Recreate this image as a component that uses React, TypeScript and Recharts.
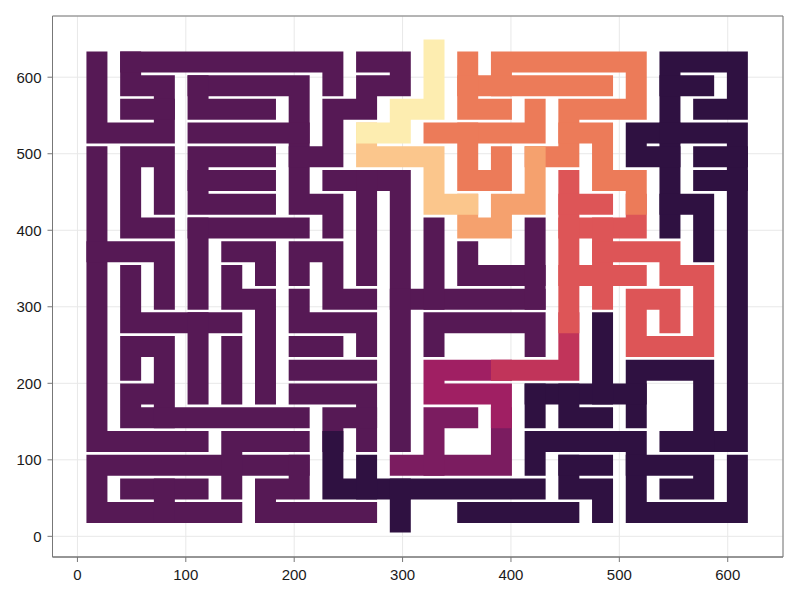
import React from 'react';
import { LineChart, Line, XAxis, YAxis, CartesianGrid, ReferenceArea } from 'recharts';

// maze cell size in data units, and the data position of cell (0, 0)
const CELL_X = 31.1;
const CELL_Y = 31;
const X0 = 18;
const Y0 = 31;

const TICKS = [0, 100, 200, 300, 400, 500, 600];

type Cell = [number, number];

// corridors as [column, row] cells, grouped by colour
const yellowPaths: Cell[][] = [
  [[10, 19.5], [10, 17], [9, 17], [9, 16], [8, 16]],
];
const peachPaths: Cell[][] = [
  [[8, 16], [8, 15], [10, 15], [10, 13], [11, 13]],
];
const salmonPaths: Cell[][] = [
  [[11, 13], [11, 12], [12, 12], [12, 13], [13, 13], [13, 15]],
];
const coralPaths: Cell[][] = [
  [[13, 15], [14, 15], [14, 17], [16, 17], [16, 19], [12, 19], [12, 18], [11, 18], [11, 19]],
  [[12, 18], [15, 18]],
  [[11, 18], [11, 17], [12, 17]],
  [[10, 16], [13, 16], [13, 17]],
  [[11, 16], [11, 14], [12, 14], [12, 15]],
  [[14, 16], [15, 16], [15, 14], [16, 14], [16, 13]],
];
const redPaths: Cell[][] = [
  [[16, 13], [16, 12], [14, 12]],
  [[14, 14], [14, 8]],
  [[14, 13], [15, 13]],
  [[15, 12], [15, 9]],
  [[14, 10], [16, 10]],
  [[15, 11], [17, 11], [17, 10], [18, 10], [18, 7], [16, 7], [16, 9], [17, 9], [17, 8]],
];
const crimsonPaths: Cell[][] = [
  [[14, 8], [14, 6], [12, 6]],
];
const magentaPaths: Cell[][] = [
  [[12, 6], [10, 6], [10, 5], [12, 5], [12, 4]],
];
const plumPaths: Cell[][] = [
  [[12, 4], [12, 2], [9, 2]],
  [[10, 2], [10, 4], [11, 4]],
];
const purplePaths: Cell[][] = [
  [[1, 19], [1, 18], [2, 18], [2, 16], [0, 16], [0, 19]],
  [[1, 17], [2, 17]],
  [[1, 19], [7, 19], [7, 18]],
  [[3, 18], [6, 18], [6, 13], [7, 13], [7, 12]],
  [[5, 17], [3, 17], [3, 18]],
  [[3, 16], [6, 16]],
  [[8, 19], [9, 19], [9, 18], [8, 18], [8, 17], [7, 17], [7, 15], [6, 15]],
  [[0, 15], [0, 3], [3, 3]],
  [[2, 13], [2, 15], [1, 15], [1, 12], [2, 12]],
  [[5, 15], [3, 15], [3, 13], [5, 13]],
  [[3, 14], [5, 14]],
  [[7, 14], [9, 14], [9, 9], [13, 9]],
  [[8, 14], [8, 10]],
  [[3, 12], [6, 12]],
  [[3, 12], [3, 9]],
  [[0, 11], [2, 11], [2, 9]],
  [[1, 10], [1, 8], [4, 8]],
  [[4, 11], [5, 11], [5, 10]],
  [[4, 10], [4, 9], [5, 9], [5, 5]],
  [[6, 10], [6, 11], [7, 11], [7, 9], [8, 9]],
  [[6, 9], [6, 8], [8, 8], [8, 7]],
  [[3, 8], [3, 5]],
  [[4, 7], [4, 5]],
  [[6, 7], [7, 7]],
  [[1, 6], [1, 7], [2, 7], [2, 4], [1, 4], [1, 5], [2, 5]],
  [[2, 4], [6, 4]],
  [[6, 5], [8, 5], [8, 3]],
  [[8, 4], [7, 4], [7, 3]],
  [[6, 6], [8, 6]],
  [[9, 9], [9, 3]],
  [[6, 2], [0, 2], [0, 0], [4, 0]],
  [[1, 1], [3, 1]],
  [[2, 1], [2, 0]],
  [[4, 1], [4, 3], [6, 3]],
  [[6, 2], [6, 1], [5, 1], [5, 0], [8, 0]],
  [[10, 12], [10, 9]],
  [[11, 11], [11, 10], [13, 10]],
  [[13, 12], [13, 9]],
  [[10, 7], [10, 8], [13, 8], [13, 7]],
];
const darkPaths: Cell[][] = [
  [[17, 12], [17, 19], [19, 19], [19, 17], [18, 17]],
  [[17, 18], [18, 18]],
  [[17, 16], [16, 16], [16, 15], [17, 15]],
  [[17, 16], [19, 16], [19, 3], [18, 3], [18, 6], [16, 6], [16, 4]],
  [[18, 15], [19, 15]],
  [[18, 14], [19, 14]],
  [[17, 13], [18, 13], [18, 11]],
  [[13, 5], [16, 5]],
  [[15, 5], [15, 8]],
  [[13, 5], [13, 4]],
  [[14, 5], [14, 4], [15, 4]],
  [[19, 2], [19, 0], [16, 0], [16, 3], [13, 3], [13, 2]],
  [[18, 3], [17, 3]],
  [[16, 2], [18, 2], [18, 1], [17, 1]],
  [[14, 2], [14, 1], [15, 1], [15, 0]],
  [[14, 2], [15, 2]],
  [[7, 3], [7, 1], [9, 1]],
  [[8, 1], [8, 2]],
  [[9, -0.4], [9, 1], [13, 1]],
  [[11, 0], [14, 0]],
];

const groups: { color: string; paths: Cell[][] }[] = [
  { color: '#561955', paths: purplePaths },
  { color: '#2f1141', paths: darkPaths },
  { color: '#7b1c60', paths: plumPaths },
  { color: '#a01f63', paths: magentaPaths },
  { color: '#c1345a', paths: crimsonPaths },
  { color: '#dd5557', paths: redPaths },
  { color: '#ec7b59', paths: coralPaths },
  { color: '#f5a16e', paths: salmonPaths },
  { color: '#fbc68c', paths: peachPaths },
  { color: '#fdedb0', paths: yellowPaths },
];

const toPoints = (path: Cell[]) => path.map(([c, r]) => ({ x: X0 + c * CELL_X, y: Y0 + r * CELL_Y }));

const tickStyle = { fill: '#1a1a1a', fontSize: 15, fontFamily: '"Liberation Sans", Arial, sans-serif' };

export default function App() {
  return (
    <div style={{ position: 'absolute', left: 0, top: 0, width: 800, height: 600, background: '#fff' }}>
      <LineChart width={800} height={600} margin={{ top: 16, right: 17, bottom: 13, left: 0 }}>
        <CartesianGrid stroke="#e8e8e8" />
        <XAxis
          type="number"
          dataKey="x"
          domain={[-23, 651]}
          ticks={TICKS}
          allowDataOverflow
          height={30}
          tickSize={5}
          tickMargin={7}
          stroke="#777"
          tick={tickStyle}
        />
        <YAxis
          type="number"
          domain={[-27, 680]}
          ticks={TICKS}
          allowDataOverflow
          width={52.5}
          tickSize={5}
          tickMargin={6}
          stroke="#777"
          tick={tickStyle}
        />
        {groups.flatMap((g, gi) =>
          g.paths.map((p, pi) => (
            <Line
              key={`${gi}-${pi}`}
              data={toPoints(p)}
              dataKey="y"
              type="linear"
              stroke={g.color}
              strokeWidth={21}
              strokeLinejoin="miter"
              strokeLinecap="square"
              dot={false}
              activeDot={false}
              legendType="none"
              isAnimationActive={false}
            />
          ))
        )}
        <ReferenceArea x1={-23} x2={651} y1={-27} y2={680} fill="none" stroke="#777" />
      </LineChart>
    </div>
  );
}
